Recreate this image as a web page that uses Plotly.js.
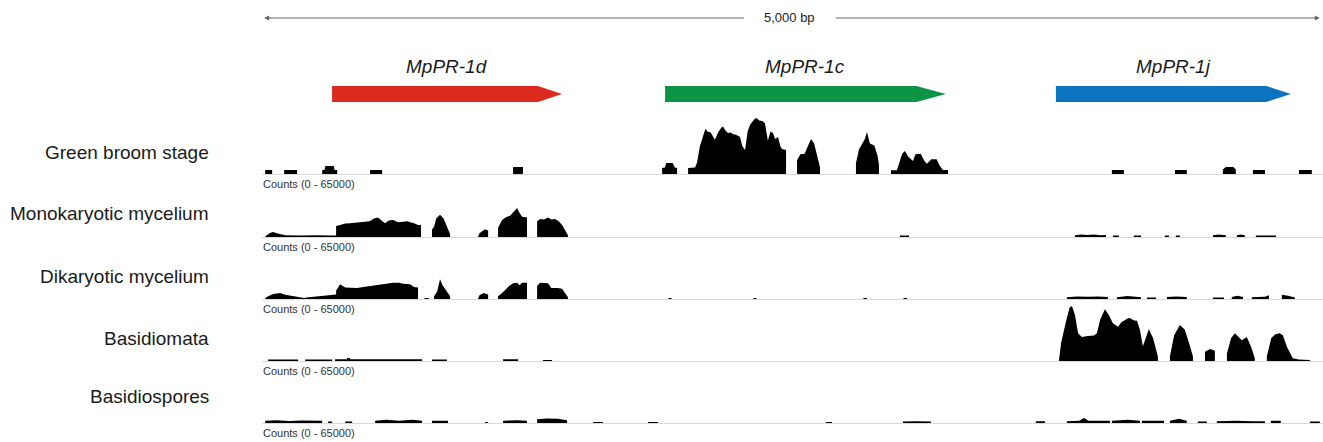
<!DOCTYPE html>
<html>
<head>
<meta charset="utf-8">
<script src="https://cdn.plot.ly/plotly-3.0.1.min.js"></script>
<style>html,body{margin:0;padding:0;background:#fff;}#chart{width:1323px;height:442px;}</style>
</head>
<body>
<div id="chart"></div>
<script>
// ---------------- DATA ----------------
const regionLength = 5000; // bp
const scaleLabel = "5,000 bp";
const countsLabel = "Counts (0 - 65000)";
const countsMax = 65000;

const geneNames  = ["MpPR-1d", "MpPR-1c", "MpPR-1j"];
const geneStart  = [322, 1899, 3750];
const geneEnd    = [1411, 3229, 4863];
const geneColors = ["#dc2a1f", "#0a9444", "#0a74c0"];

const trackNames = ["Green broom stage", "Monokaryotic mycelium", "Dikaryotic mycelium", "Basidiomata", "Basidiospores"];

// coverage profiles: [position (bp), read count]
const greenBroom = [
 [5,0],[5,4300],[38,4300],[38,0],
 [95,0],[95,4300],[156,4300],[156,0],
 [275,0],[275,4300],[286,4300],[290,8600],[330,8600],[334,4300],[346,4300],[346,0],
 [502,0],[502,4300],[559,4300],[559,0],
 [1179,0],[1179,7500],[1226,7500],[1226,0],
 [1885,0],[1885,6500],[1898,7000],[1905,12000],[1935,12000],[1945,7000],[1956,6500],[1956,0],
 [2008,0],[2008,6500],[2041,7000],[2050,12000],[2064,30000],[2080,43000],[2090,49000],[2100,46000],[2115,45000],[2135,37000],[2150,45000],[2165,50000],[2173,51500],[2185,47000],[2197,44500],[2210,45000],[2221,43000],[2235,42500],[2254,40000],[2265,30000],[2278,26000],[2290,46000],[2301,53000],[2315,57500],[2325,60000],[2334,60500],[2345,58000],[2360,57500],[2372,55000],[2380,44000],[2386,36000],[2398,46000],[2410,44500],[2420,38000],[2434,40000],[2445,30000],[2453,27000],[2472,26000],[2472,0],
 [2524,0],[2524,15000],[2540,21500],[2560,22000],[2575,30000],[2590,38000],[2605,33000],[2618,20000],[2633,7000],[2633,0],
 [2803,0],[2803,12000],[2818,27000],[2832,32500],[2845,38000],[2855,45500],[2862,40000],[2869,33000],[2890,31000],[2905,20000],[2912,10000],[2912,0],
 [2969,0],[2969,4000],[2997,4000],[3010,14000],[3022,22000],[3035,25000],[3050,19000],[3073,14000],[3085,21500],[3110,22000],[3125,15000],[3139,11000],[3160,16000],[3185,16000],[3200,9000],[3215,4300],[3239,4300],[3239,0],
 [4015,0],[4015,4300],[4072,4300],[4072,0],
 [4314,0],[4314,4300],[4370,4300],[4370,0],
 [4541,0],[4541,5000],[4555,7500],[4590,7500],[4602,5000],[4602,0],
 [4683,0],[4683,4300],[4740,4300],[4740,0],
 [4901,0],[4901,4300],[4962,4300],[4962,0]
];

const monokaryotic = [
 [5,0],[10,1500],[30,4500],[43,5500],[60,4000],[76,3000],[100,2000],[170,1500],[250,2000],[313,1500],[341,1500],[341,0],
 [341,0],[341,12000],[360,13000],[384,14500],[407,15000],[440,16000],[478,16500],[500,17000],[520,20000],[540,21000],[560,17000],[573,15000],[590,18000],[611,18500],[635,16000],[658,16500],[680,17000],[691,16000],[710,15000],[729,13000],[743,13000],[743,0],
 [795,0],[795,8000],[805,11000],[815,20000],[833,24000],[850,20000],[865,11000],[881,3000],[881,0],
 [1013,0],[1020,4000],[1046,8500],[1061,7000],[1061,0],
 [1108,0],[1108,10000],[1127,18500],[1145,21500],[1165,23000],[1180,27000],[1198,31500],[1210,26000],[1222,22000],[1245,21000],[1245,0],
 [1293,0],[1293,17000],[1307,19500],[1325,19000],[1345,21000],[1360,19000],[1378,19500],[1395,17000],[1411,13000],[1439,2000],[1439,0],
 [3011,0],[3011,1500],[3054,1500],[3054,0],
 [3840,0],[3840,2000],[3870,2800],[3900,2200],[3930,2800],[3960,2000],[3987,2200],[3987,0],
 [4020,0],[4020,1500],[4048,1500],[4048,0],
 [4119,0],[4119,1500],[4153,1500],[4153,0],
 [4266,0],[4266,1500],[4285,1500],[4285,0],
 [4318,0],[4318,1500],[4337,1500],[4337,0],
 [4494,0],[4494,2000],[4520,2800],[4555,2000],[4555,0],
 [4607,0],[4607,2000],[4625,2800],[4645,2000],[4645,0],
 [4697,0],[4697,1500],[4792,1500],[4792,0]
];

const dikaryotic = [
 [5,0],[10,2000],[43,5500],[76,6500],[100,4500],[150,2500],[170,1500],[190,1000],[200,1500],[250,3000],[313,4500],[341,5000],
 [341,9000],[360,16000],[384,12500],[407,12000],[440,12000],[470,13000],[500,14000],[540,15000],[573,16000],[611,17500],[640,17500],[658,16500],[691,16000],[710,13000],[729,12500],[729,0],
 [760,0],[760,1000],[780,1000],[780,0],
 [805,0],[805,3000],[820,8000],[833,21500],[845,15000],[860,10000],[881,3000],[881,0],
 [1013,0],[1020,4000],[1040,6500],[1061,5000],[1061,0],
 [1108,0],[1108,3000],[1130,7000],[1160,14000],[1180,17000],[1198,17500],[1210,15000],[1222,17500],[1245,17500],[1245,0],
 [1293,0],[1293,14000],[1307,17500],[1330,17000],[1345,17000],[1360,12000],[1390,12000],[1411,11000],[1425,7000],[1439,2000],[1439,0],
 [1915,0],[1915,1000],[1930,1000],[1930,0],
 [2318,0],[2318,1000],[2332,1000],[2332,0],
 [2838,0],[2838,1000],[2855,1000],[2855,0],
 [3028,0],[3028,1000],[3045,1000],[3045,0],
 [3802,0],[3802,2000],[3850,2800],[3900,2500],[3950,2800],[3996,2200],[3996,0],
 [4039,0],[4039,2000],[4090,3200],[4153,2000],[4153,0],
 [4181,0],[4181,1500],[4224,1500],[4224,0],
 [4276,0],[4276,2200],[4320,2800],[4370,2200],[4370,0],
 [4494,0],[4494,1500],[4546,1500],[4546,0],
 [4583,0],[4583,2200],[4610,3500],[4636,2200],[4636,0],
 [4678,0],[4678,2000],[4740,2500],[4759,4000],[4759,0],
 [4820,0],[4820,4500],[4850,3500],[4882,1500],[4882,0]
];

const basidiomata = [
 [19,0],[19,1500],[161,1500],[161,0],
 [194,0],[194,1500],[322,1500],[322,0],
 [336,0],[336,2000],[393,2000],[393,3200],[407,3200],[407,2000],[748,2000],[748,0],
 [795,0],[795,1500],[866,1500],[866,0],
 [1132,0],[1132,1800],[1203,1800],[1203,0],
 [1321,0],[1321,1200],[1364,1200],[1364,0],
 [3764,0],[3775,20000],[3800,45000],[3815,58000],[3826,59500],[3840,50000],[3855,30000],[3873,26000],[3900,27000],[3930,27500],[3944,30000],[3960,45000],[3982,56000],[4000,50000],[4020,41000],[4044,37000],[4060,42000],[4077,44500],[4090,46000],[4100,46500],[4120,44000],[4134,43500],[4148,33500],[4162,16000],[4175,25000],[4190,34500],[4210,25000],[4233,5000],[4233,0],
 [4290,0],[4290,5000],[4310,28000],[4337,39000],[4360,34000],[4380,20000],[4399,5000],[4399,0],
 [4456,0],[4456,10000],[4480,13000],[4503,11000],[4503,0],
 [4560,0],[4560,8000],[4580,25000],[4598,30000],[4615,26000],[4631,22500],[4654,26000],[4675,15000],[4692,3000],[4692,0],
 [4749,0],[4749,5000],[4770,25000],[4790,29000],[4810,30000],[4825,28000],[4845,15000],[4872,3000],[4900,1500],[4953,1000],[4953,0]
];

const basidiospores = [
 [5,0],[5,2500],[60,3000],[120,2200],[180,2800],[240,2200],[275,2500],[275,0],
 [303,0],[303,1500],[322,1500],[322,0],
 [384,0],[384,1500],[417,1500],[417,0],
 [526,0],[526,2500],[580,3500],[640,2500],[700,3500],[748,2500],[748,0],
 [795,0],[795,2500],[871,2500],[871,0],
 [1046,0],[1046,1000],[1061,1000],[1061,0],
 [1132,0],[1132,2500],[1200,3000],[1245,2500],[1245,0],
 [1293,0],[1293,4000],[1340,5000],[1390,4500],[1435,3000],[1435,0],
 [1558,0],[1558,1200],[1605,1200],[1605,0],
 [1818,0],[1818,1200],[1866,1200],[1866,0],
 [2660,0],[2660,1000],[2690,1000],[2690,0],
 [3026,0],[3026,1500],[3090,2000],[3158,1500],[3158,0],
 [3655,0],[3655,2000],[3698,2000],[3698,0],
 [3802,0],[3802,2000],[3860,2500],[3883,5500],[3905,2500],[4006,2500],[4006,0],
 [4015,0],[4015,2500],[4091,3500],[4148,2500],[4148,0],
 [4157,0],[4157,2500],[4262,2500],[4262,0],
 [4290,0],[4290,2500],[4333,4500],[4370,2500],[4370,0],
 [4422,0],[4422,1500],[4465,1500],[4465,0],
 [4512,0],[4512,2000],[4600,2500],[4680,2000],[4740,2000],[4740,0],
 [4768,0],[4768,2500],[4815,2500],[4815,0],
 [4953,0],[4953,1500],[5000,1500],[5000,0]
];

const coverage = [greenBroom, monokaryotic, dikaryotic, basidiomata, basidiospores];

// ---------------- LAYOUT / DRAWING ----------------
const W = 1323, H = 442;
const baselinePx = [174, 237, 299, 361, 423];
const labelPx = [152, 213, 276, 338, 396];
const trackHeightPx = 60;
const xDomain = [262 / W, 1];
const xRange = [-10, 5015];
const font = "Liberation Sans, Arial, Helvetica, sans-serif";

const traces = [];
const layout = {
  width: W, height: H,
  margin: {l: 0, r: 0, t: 0, b: 0},
  paper_bgcolor: "#ffffff", plot_bgcolor: "rgba(0,0,0,0)",
  showlegend: false,
  font: {family: font, color: "#111"},
  annotations: [], shapes: []
};

coverage.forEach((track, i) => {
  const n = i + 1;
  const b = baselinePx[i];
  layout["xaxis" + n] = {
    domain: xDomain, range: xRange, anchor: "y" + n,
    showline: true, linecolor: "#d9d9d9", linewidth: 1.2,
    showgrid: false, zeroline: false, showticklabels: false, ticks: "", fixedrange: true
  };
  if (n > 1) layout["xaxis" + n].matches = "x";
  layout["yaxis" + n] = {
    domain: [1 - b / H, 1 - (b - trackHeightPx) / H], range: [0, countsMax], anchor: "x" + n,
    showline: false, showgrid: false, zeroline: false, showticklabels: false, ticks: "", fixedrange: true
  };
  traces.push({
    type: "scatter", mode: "lines",
    x: track.map(p => p[0]), y: track.map(p => p[1]),
    xaxis: "x" + n, yaxis: "y" + n,
    fill: "tozeroy", fillcolor: "#000000",
    line: {width: 0, color: "#000000"}, hoverinfo: "skip"
  });
  layout.annotations.push({
    xref: "paper", yref: "paper", x: 211 / W, y: 1 - labelPx[i] / H,
    xanchor: "right", yanchor: "middle", showarrow: false,
    text: trackNames[i], font: {size: 19, color: "#1a1a1a", family: font}
  });
  layout.annotations.push({
    xref: "paper", yref: "paper", x: 261 / W, y: 1 - (b + 10) / H,
    xanchor: "left", yanchor: "middle", showarrow: false,
    text: countsLabel, font: {size: 11, color: "#333", family: font}
  });
});

// gene axis
layout.xaxis6 = {domain: xDomain, range: xRange, anchor: "y6", matches: "x", visible: false, fixedrange: true};
layout.yaxis6 = {domain: [1 - 110 / H, 1 - 50 / H], range: [0, 60], anchor: "x6", visible: false, fixedrange: true};

geneNames.forEach((g, i) => {
  const s = geneStart[i], e = geneEnd[i];
  const headLen = (e - s) * 0.105;
  const be = e - headLen;
  traces.push({
    type: "scatter", mode: "lines",
    x: [s, be, e, be, s, s], y: [8, 8, 16, 24, 24, 8],
    xaxis: "x6", yaxis: "y6",
    fill: "toself", fillcolor: geneColors[i],
    line: {width: 0, color: geneColors[i]}, hoverinfo: "skip"
  });
  layout.annotations.push({
    xref: "x6", yref: "paper", x: (s + e) / 2, y: 1 - 66 / H,
    xanchor: "center", yanchor: "middle", showarrow: false,
    text: "<i>" + g + "</i>", font: {size: 19, color: "#1a1a1a", family: font}
  });
});

// scale bar
const scaleY = 1 - 18 / H;
const labelCenter = regionLength / 2 - 10;
const gapBp = 210;
layout.annotations.push({
  xref: "x6", yref: "paper", x: labelCenter, y: scaleY, showarrow: false,
  text: scaleLabel, font: {size: 13, color: "#222", family: font}, xanchor: "center", yanchor: "middle"
});
layout.annotations.push({
  xref: "x6", yref: "paper", x: 0, y: scaleY, axref: "x6", ax: labelCenter - gapBp, ayref: "pixel", ay: 0,
  showarrow: true, arrowhead: 2, arrowsize: 1, arrowwidth: 1, arrowcolor: "#666", text: ""
});
layout.annotations.push({
  xref: "x6", yref: "paper", x: regionLength, y: scaleY, axref: "x6", ax: labelCenter + gapBp, ayref: "pixel", ay: 0,
  showarrow: true, arrowhead: 2, arrowsize: 1, arrowwidth: 1, arrowcolor: "#666", text: ""
});

Plotly.newPlot("chart", traces, layout, {displayModeBar: false, staticPlot: true});
</script>
</body>
</html>
